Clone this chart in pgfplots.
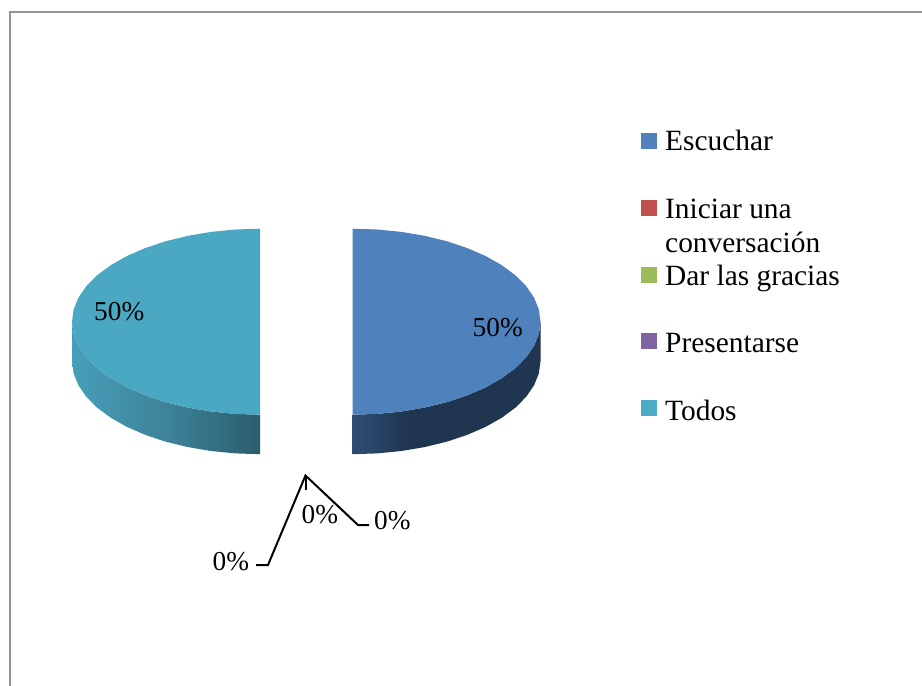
\documentclass[border=0pt]{standalone}
\usepackage{fontspec}
\setmainfont{Liberation Serif}
\usepackage{pgfplots}
\pgfplotsset{compat=1.18}
\definecolor{cBlue}{HTML}{4F81BD}
\definecolor{cRed}{HTML}{C0504D}
\definecolor{cGreen}{HTML}{9BBB59}
\definecolor{cPurple}{HTML}{8064A2}
\definecolor{cTeal}{HTML}{4BACC6}
\definecolor{cTop}{HTML}{4AA8C3}
\definecolor{rsA}{HTML}{2F4E74}
\definecolor{rsB}{HTML}{1F3550}
\definecolor{lsA}{HTML}{479FB9}
\definecolor{lsB}{HTML}{3D8398}
\definecolor{lsC}{HTML}{2B5E6D}
\pgfdeclarehorizontalshading{rightside}{100bp}{color(0bp)=(rsA); color(25bp)=(rsA); color(40bp)=(rsB); color(100bp)=(rsB)}
\pgfdeclarehorizontalshading{leftside}{100bp}{color(0bp)=(lsA); color(25bp)=(lsA); color(50bp)=(lsB); color(75bp)=(lsC); color(100bp)=(lsC)}
\newcommand{\lgd}{\fontsize{29.4}{34}\selectfont}
\newcommand{\lbl}{\fontsize{27.3}{32}\selectfont}
\tikzset{
  lbltext/.style={anchor=base west, inner sep=0pt, text=black, font=\lbl},
  lgdtext/.style={anchor=base west, inner sep=0pt, text=black, font=\lgd},
}
\begin{document}
\begin{tikzpicture}
\begin{axis}[
  scale only axis, width=922pt, height=686pt,
  xmin=0, xmax=922, ymin=0, ymax=686, y dir=reverse,
  hide axis,
]
% white background, keeps the page size
\addplot[draw=none, fill=white] coordinates {(0,0)(922,0)(922,686)(0,686)};
% chart border
\addplot[color=black!42, line width=2pt] coordinates {(9.5,690)(9.5,11.5)(930,11.5)};

% right slice: side wall
\addplot[draw=none, shading=rightside] coordinates {
 (352.5,414.7)(377.04,413.9)(401.16,411.53)(424.44,407.62)(446.5,402.24)(466.95,395.48)(485.44,387.46)(501.65,378.31)(515.31,368.2)(526.19,357.29)(534.1,345.77)(538.89,333.84)(540.5,321.7)
 (540.5,361.2)(538.89,373.34)(534.1,385.27)(526.19,396.79)(515.31,407.7)(501.65,417.81)(485.44,426.96)(466.95,434.98)(446.5,441.74)(424.44,447.12)(401.16,451.03)(377.04,453.4)(352.5,454.2)};
% right slice: top
\addplot[draw=none, fill=cBlue] coordinates {
 (352.5,228.7)(377.04,229.5)(401.16,231.87)(424.44,235.78)(446.5,241.16)(466.95,247.92)(485.44,255.94)(501.65,265.09)(515.31,275.2)(526.19,286.11)(534.1,297.63)(538.89,309.56)(540.5,321.7)
 (538.89,333.84)(534.1,345.77)(526.19,357.29)(515.31,368.2)(501.65,378.31)(485.44,387.46)(466.95,395.48)(446.5,402.24)(424.44,407.62)(401.16,411.53)(377.04,413.9)(352.5,414.7)};

% left slice: side wall
\addplot[draw=none, shading=leftside] coordinates {
 (260,414.7)(235.46,413.9)(211.34,411.53)(188.06,407.62)(166,402.24)(145.55,395.48)(127.06,387.46)(110.85,378.31)(97.19,368.2)(86.31,357.29)(78.4,345.77)(73.61,333.84)(72,321.7)
 (72,361.2)(73.61,373.34)(78.4,385.27)(86.31,396.79)(97.19,407.7)(110.85,417.81)(127.06,426.96)(145.55,434.98)(166,441.74)(188.06,447.12)(211.34,451.03)(235.46,453.4)(260,454.2)};
% left slice: top
\addplot[draw=none, fill=cTop] coordinates {
 (260,228.7)(235.46,229.5)(211.34,231.87)(188.06,235.78)(166,241.16)(145.55,247.92)(127.06,255.94)(110.85,265.09)(97.19,275.2)(86.31,286.11)(78.4,297.63)(73.61,309.56)(72,321.7)
 (73.61,333.84)(78.4,345.77)(86.31,357.29)(97.19,368.2)(110.85,378.31)(127.06,387.46)(145.55,395.48)(166,402.24)(188.06,407.62)(211.34,411.53)(235.46,413.9)(260,414.7)};

% leader lines
\addplot[black, line width=2pt, line join=miter] coordinates {(256,565)(268,565)(305.5,475.5)(358,525)(369,525)};
\addplot[black, line width=2pt] coordinates {(305.5,475.5)(305.5,490)};

% legend keys
\addplot[only marks, mark=square*, mark size=7.5pt, mark options={draw=cBlue, line width=0pt, fill=cBlue}] coordinates {(648.5,141)};
\addplot[only marks, mark=square*, mark size=7.5pt, mark options={draw=cRed, line width=0pt, fill=cRed}] coordinates {(648.5,208)};
\addplot[only marks, mark=square*, mark size=7.5pt, mark options={draw=cGreen, line width=0pt, fill=cGreen}] coordinates {(648.5,275)};
\addplot[only marks, mark=square*, mark size=7.5pt, mark options={draw=cPurple, line width=0pt, fill=cPurple}] coordinates {(648.5,341)};
\addplot[only marks, mark=square*, mark size=7.5pt, mark options={draw=cTeal, line width=0pt, fill=cTeal}] coordinates {(648.5,408)};

% legend text
\node[lgdtext] at (axis cs:665,150) {Escuchar};
\node[lgdtext] at (axis cs:665,218) {Iniciar una};
\node[lgdtext] at (axis cs:665,252) {conversación};
\node[lgdtext] at (axis cs:665,285) {Dar las gracias};
\node[lgdtext] at (axis cs:665,352.5) {Presentarse};
\node[lgdtext] at (axis cs:665,420) {Todos};

% data labels
\node[lbltext] at (axis cs:472.5,336) {50\%};
\node[lbltext] at (axis cs:94,320) {50\%};
\node[lbltext] at (axis cs:212.5,570) {0\%};
\node[lbltext] at (axis cs:301.5,523) {0\%};
\node[lbltext] at (axis cs:374,529) {0\%};
\end{axis}
\end{tikzpicture}
\end{document}
